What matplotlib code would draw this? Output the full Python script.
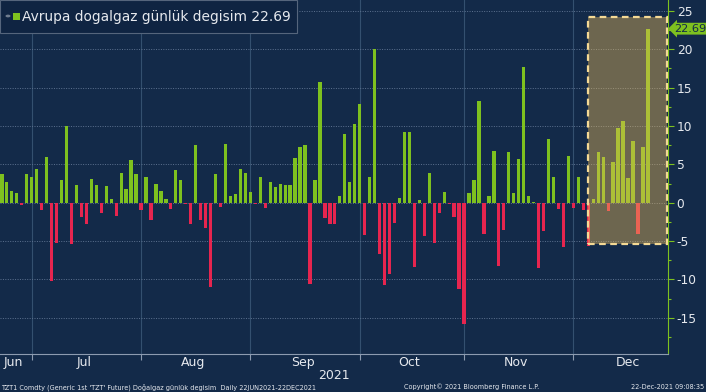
import matplotlib
matplotlib.use('Agg')
import matplotlib.pyplot as plt
import matplotlib.patches as mpatches
import matplotlib.transforms as mtransforms
import numpy as np
import pandas as pd

plt.rcParams['axes.unicode_minus'] = False
plt.rcParams['font.family'] = ['DejaVu Sans']

# daily change, TZT1 Comdty, 23 Jun - 22 Dec 2021 (business days)
values = [
    3.8, 2.65, 1.5, 1.2, -0.3, 3.7,
    3.4, 4.4, -1.0, 5.9, -10.2, -5.2, 3.0, 10.0, -5.4, 2.3, -1.9, -2.8, 3.1, 2.3,
    -1.4, 2.2, 0.5, -1.7, 3.9, 1.8, 5.6, 3.7,
    -1.0, 3.4, -2.2, 2.4, 1.5, 0.5, -0.8, 4.3, 3.0, -0.2, -2.8, 7.5, -2.2, -3.35,
    -10.96, 3.8, -0.6, 7.6, 0.9, 1.1, 4.4, 3.9,
    1.35, -0.2, 3.3, -0.7, 2.7, 2.0, 2.5, 2.3, 2.3, 5.8, 7.3, 7.5, -10.6, 3.0,
    15.7, -2.0, -2.8, -2.8, 0.9, 8.9, 2.65, 10.3,
    12.9, -4.2, 3.3, 20.0, -6.7, -10.7, -9.35, -2.7, 0.6, 9.2, 9.2, -8.35, 0.3,
    -4.3, 3.9, -5.3, -1.3, 1.4, -0.2, -1.9, -11.3,
    -15.8, 1.2, 3.0, 13.2, -4.1, 0.9, 6.8, -8.2, -3.5, 6.6, 1.2, 5.7, 17.7, 0.9,
    0.1, -8.5, -3.65, 8.3, 3.4, -0.8, -5.8, 6.1,
    -0.65, 3.4, -0.95, -5.6, 0.5, 6.65, 5.9, -1.05, 5.3, 9.8, 10.6, 3.2, 8.0,
    -4.1, 7.3, 22.69,
]
dates = pd.bdate_range('2021-06-23', '2021-12-22')
month_names = ['Jun', 'Jul', 'Aug', 'Sep', 'Oct', 'Nov', 'Dec']
yticks = [-15, -10, -5, 0, 5, 10, 15, 20, 25]

title = 'Avrupa dogalgaz günlük degisim'
footer_left = "TZT1 Comdty (Generic 1st 'TZT' Future) Doğalgaz günlük degisim  Daily 22JUN2021-22DEC2021"
footer_mid = 'Copyright© 2021 Bloomberg Finance L.P.'
footer_right = '22-Dec-2021 09:08:35'

# highlighted window
hl_start = '2021-12-06'
hl_low, hl_high = -5.38, 24.25

bg = '#132a49'
green = '#7ec11f'
red = '#e6254f'
light = '#e6e9ee'

x = np.arange(len(values))
xl = (-0.38, 134.1)

fig = plt.figure(figsize=(7.06, 3.92), dpi=100)
fig.patch.set_facecolor(bg)
ax = fig.add_axes([0, 38 / 392, 668.3 / 706, 354 / 392])
ax.set_facecolor(bg)

colors = [green if v >= 0 else red for v in values]
ax.bar(x, values, width=0.66, color=colors, zorder=3)
ax.set_xlim(*xl)
ax.set_ylim(-19.73, 26.43)

# month positions in trading-day index
all_days = pd.bdate_range('2021-06-01', '2021-12-31')
offset = list(all_days).index(dates[0])
pos = pd.Series(np.arange(len(all_days)) - offset, index=all_days)
starts, centers = [], []
for (yy, mm), grp in pos.groupby([pos.index.year, pos.index.month]):
    lo = max(grp.min(), xl[0])
    centers.append((lo + grp.max()) / 2)
    if grp.min() > xl[0]:
        starts.append(grp.min())

ax.set_xticks(starts)
ax.set_xticklabels([])
ax.tick_params(axis='x', direction='out', length=4, color='#8d9bb0', width=0.8)
ax.xaxis.grid(True, color='#34506f', lw=0.8, zorder=0)

trans = mtransforms.blended_transform_factory(ax.transData, ax.transAxes)
for c, name in zip(centers, month_names):
    ax.text(c, -0.024, name, transform=trans, ha='center', va='center',
            color=light, fontsize=9)
ax.text(sum(xl) / 2, -0.06, '2021', transform=trans, ha='center', va='center',
        color=light, fontsize=9)

ax.yaxis.tick_right()
ax.set_yticks(yticks)
ax.set_yticks(np.arange(-17.5, 26, 2.5), minor=True)
ax.tick_params(axis='y', which='major', direction='out', length=4, width=0.8,
               color=green, labelcolor=light, labelsize=8.8, pad=2)
ax.tick_params(axis='y', which='minor', direction='out', length=2.5, width=0.8,
               color=green)
ax.yaxis.grid(True, which='major', linestyle=(0, (1, 1.5)), color='#5d7290',
              lw=0.7, zorder=0)

for s in ['top', 'left']:
    ax.spines[s].set_visible(False)
ax.spines['right'].set_color(green)
ax.spines['bottom'].set_color('#8d9bb0')

# highlight box
x0 = pos[pd.Timestamp(hl_start)]
x1 = 133.8
ax.add_patch(mpatches.Rectangle((x0, hl_low), x1 - x0, hl_high - hl_low,
                                facecolor=(240 / 255, 190 / 255, 90 / 255),
                                alpha=0.41, edgecolor='none', zorder=4))
ax.add_patch(mpatches.Rectangle((x0, hl_low), x1 - x0, hl_high - hl_low,
                                facecolor='none', edgecolor='#f4d995', lw=1.6,
                                linestyle=(0, (3, 2)), zorder=5))

# last value tag
ytrans = mtransforms.blended_transform_factory(ax.transAxes, ax.transData)
ax.text(1.009, values[-1], f'{values[-1]:.2f}', transform=ytrans, ha='left',
        va='center', color=bg, fontsize=8.2, clip_on=False, zorder=6,
        bbox=dict(boxstyle='larrow,pad=0.08', fc=green, ec='none'))

# legend box
fig.patches.append(mpatches.Rectangle((0, 1 - 33 / 392), 297 / 706, 33 / 392,
                                      transform=fig.transFigure, facecolor='#0f2442',
                                      edgecolor='#55657c', lw=0.8, zorder=10))
fig.patches.append(mpatches.Circle((8 / 706, 1 - 16 / 392), 2.5 / 706,
                                   transform=fig.transFigure, facecolor='#6f7c8e',
                                   edgecolor='none', zorder=11))
fig.patches.append(mpatches.Rectangle((13 / 706, 1 - 20 / 392), 7 / 706, 7 / 392,
                                      transform=fig.transFigure, facecolor=green,
                                      edgecolor='none', zorder=11))
fig.text(22 / 706, 1 - 16.5 / 392, f'{title} {values[-1]:.2f}', ha='left',
         va='center', color=light, fontsize=9.9, zorder=12)

# footer
fig.text(0.002, 0.013, footer_left, ha='left', va='center', color=light, fontsize=4.7)
fig.text(472 / 706, 0.013, footer_mid, ha='center', va='center', color=light, fontsize=4.7)
fig.text(0.998, 0.013, footer_right, ha='right', va='center', color=light, fontsize=4.7)

fig.savefig('out.png', dpi=100, facecolor=bg)
